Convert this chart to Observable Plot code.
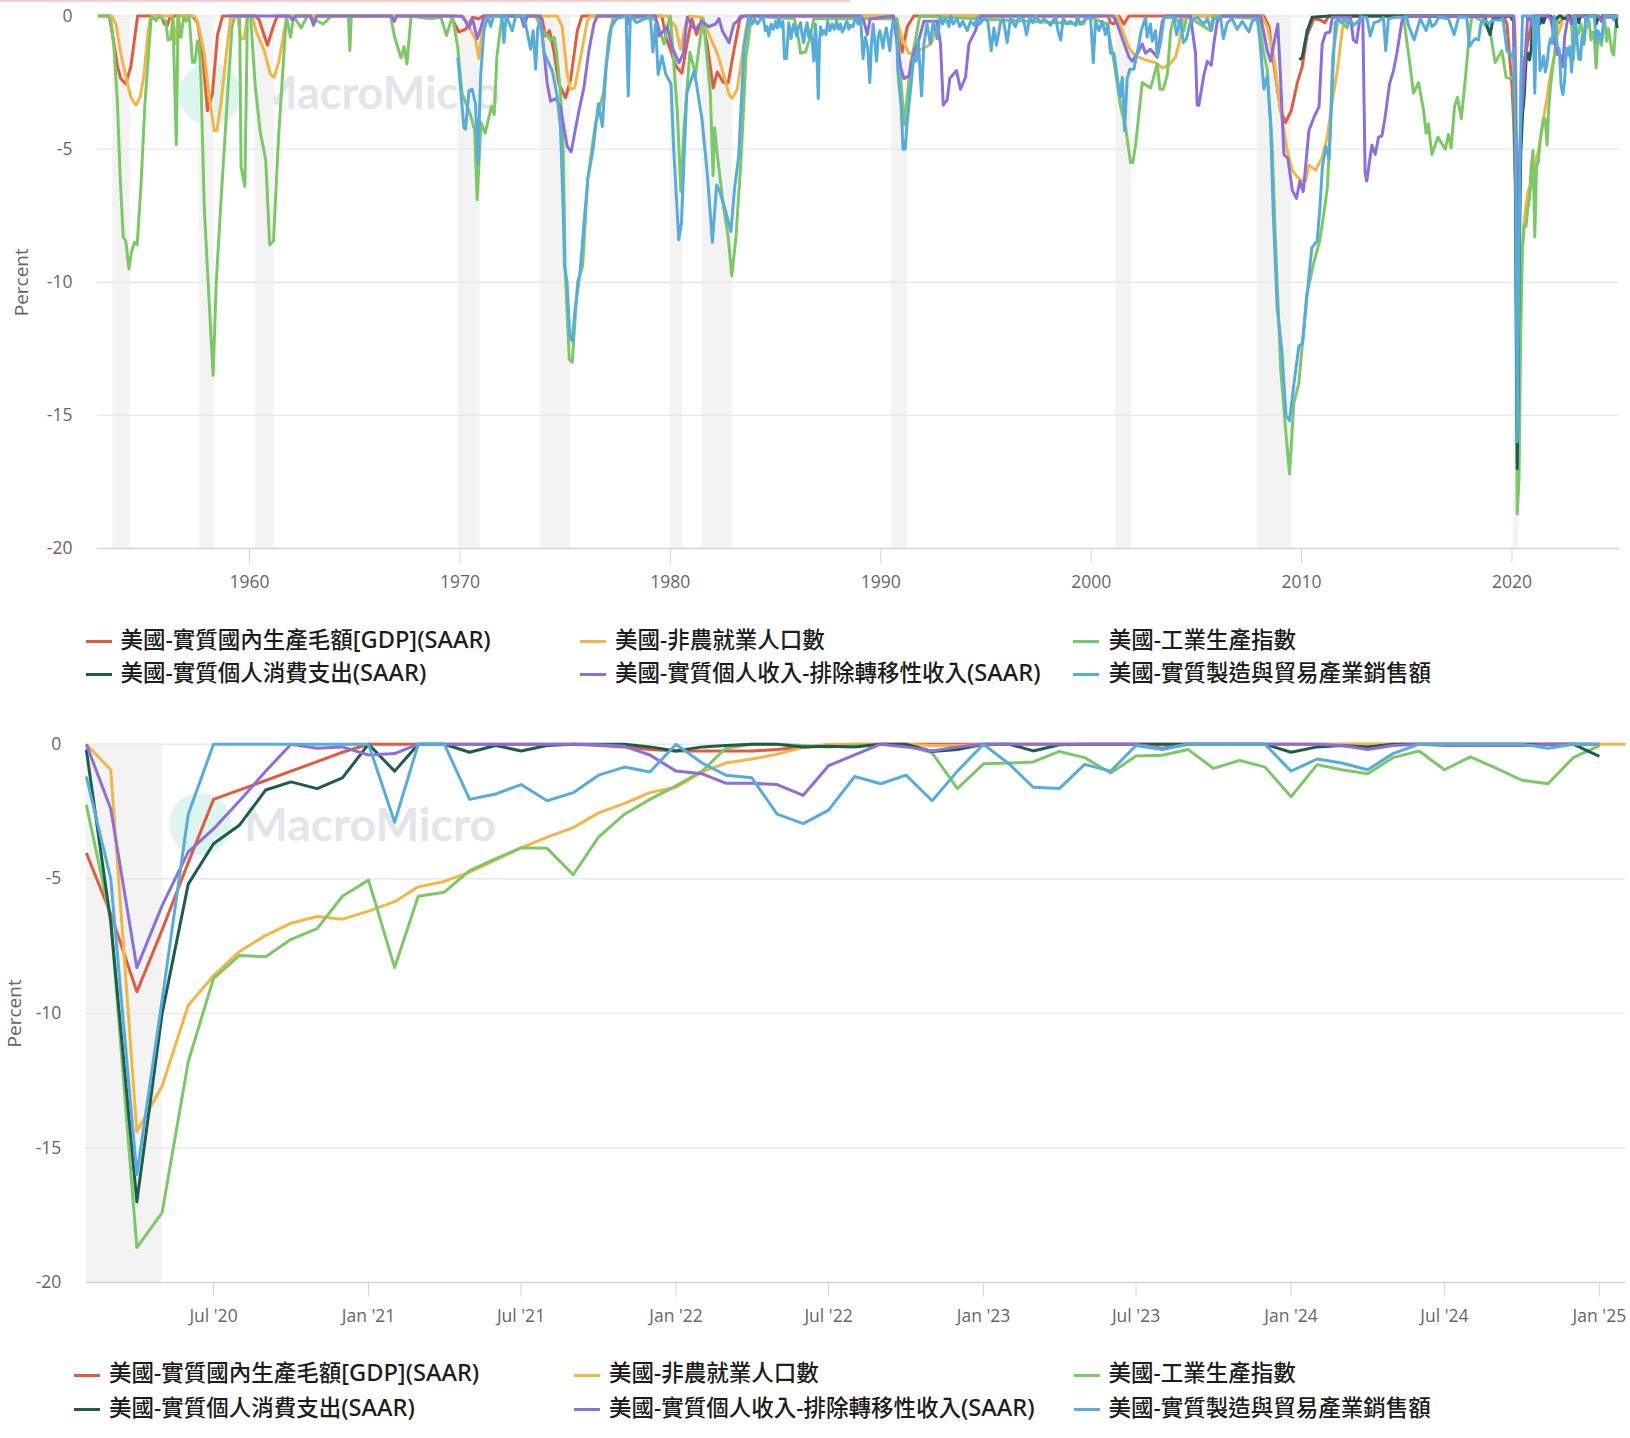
<!DOCTYPE html>
<html lang="zh-Hant">
<head>
<meta charset="utf-8">
<title>美國景氣指標回落幅度</title>
<script src="https://cdn.jsdelivr.net/npm/d3@7"></script>
<script src="https://cdn.jsdelivr.net/npm/@observablehq/plot@0.6"></script>
<style>
html,body{margin:0;padding:0;background:#fff;overflow:hidden}
#page{position:relative;width:1630px;height:1438px;overflow:hidden;background:#fff}
#page svg{position:absolute;left:0}
.strip{position:absolute;left:0;top:0;width:850px;height:2px;background:#f6cccc}
.mm-dot{position:absolute;width:62px;height:62px;border-radius:50%;background:#dcf5ef}
.mm-txt{position:absolute;font:700 45px/1 Lato,"Noto Sans",sans-serif;color:#e3e5e7;white-space:nowrap}
.lg{position:absolute;font:500 22.5px/26px "Noto Sans","Noto Sans CJK TC",sans-serif;color:#1c1c1c;white-space:nowrap}
.lg span{font-size:1.05em;line-height:0}
.sw{position:absolute;width:26px;height:3px}
</style>
</head>
<body>
<div id="page"><div class="strip"></div></div>
<script>
// ---- names, colours
const seriesNames = ["美國-實質國內生產毛額[GDP](SAAR)","美國-非農就業人口數","美國-工業生產指數","美國-實質個人消費支出(SAAR)","美國-實質個人收入-排除轉移性收入(SAAR)","美國-實質製造與貿易產業銷售額"];
const seriesColors = ["#e05c40","#f2b648","#7cc868","#1e5c4c","#8d6fdc","#58acd9"];

// ---- monthly readings, Feb 2020 .. Jan 2025 (12 per row)
const gdpMonthly = [
 -4.04,-6.3,-9.2,-6.9,-4.4,-2.05,-1.7,-1.35,-1,-0.65,-0.3,0,
 0,0,0,0,0,0,0,0,-0.05,-0.1,-0.2,-0.25,
 -0.25,-0.25,-0.25,-0.2,-0.1,-0.05,0,0,0,0,0,0,
 0,0,0,0,0,0,0,0,0,0,0,0,
 0,0,0,0,0,0,0,0,0,0,0,0];
const jobsMonthly = [
 0,-0.95,-14.4,-12.7,-9.7,-8.6,-7.7,-7.1,-6.65,-6.4,-6.5,-6.2,
 -5.85,-5.3,-5.1,-4.75,-4.3,-3.85,-3.45,-3.1,-2.55,-2.2,-1.8,-1.6,
 -1.03,-0.7,-0.55,-0.37,-0.12,0,0,0,0,-0.05,-0.05,-0.02,
 0,0,0,0,0,0,0,0,0,0,0,0,
 0,0,0,0,0,0,0,0,0,0,0,0,0];
const ipMonthly = [
 -2.25,-6.5,-18.7,-17.4,-11.8,-8.7,-7.85,-7.9,-7.25,-6.85,-5.65,-5.05,
 -8.3,-5.65,-5.5,-4.7,-4.25,-3.85,-3.87,-4.85,-3.45,-2.6,-2.05,-1.55,
 -1,-0.15,0,0,-0.05,-0.1,-0.05,0,-0.05,-0.32,-1.65,-0.73,
 -0.7,-0.66,-0.27,-0.5,-1.07,-0.44,-0.41,-0.2,-0.9,-0.6,-0.85,-1.95,
 -0.76,-0.95,-1.1,-0.5,-0.25,-0.95,-0.47,-0.9,-1.34,-1.47,-0.5,-0.05];
const pceMonthly = [
 -0.2,-6.6,-17,-10,-5.2,-3.7,-3,-1.7,-1.4,-1.65,-1.25,0,
 -1,0,0,-0.3,-0.05,-0.25,-0.05,0,0,0,-0.1,-0.25,
 -0.1,-0.05,0,0,-0.1,-0.08,-0.1,0,0,-0.27,-0.2,0,
 0,-0.25,-0.02,0,0,0,0,0,0,0,0,-0.3,
 -0.1,-0.05,-0.1,0,0,0,0,0,0,0,0,-0.45];
const incomeMonthly = [
 0,-2.4,-8.3,-6,-4,-3.15,-2.1,-1,0,-0.15,-0.1,-0.4,
 -0.35,0,0,0,0,0,0,0,-0.02,-0.08,-0.4,-1,
 -1.1,-1.45,-1.45,-1.5,-1.9,-0.8,-0.4,0,-0.1,-0.25,-0.1,0,
 0,0,0,0,0,0,-0.15,0,0,0,0,0,
 0,-0.05,-0.2,-0.05,0,-0.05,-0.05,-0.05,-0.05,0,0,0];
const salesMonthly = [
 -1.2,-5,-16,-9.5,-2.6,0,0,0,0,0,0,0,
 -2.9,0,0,-2.05,-1.85,-1.5,-2.1,-1.8,-1.15,-0.85,-1.03,0,
 -0.7,-1.15,-1.25,-2.6,-2.95,-2.45,-1.2,-1.47,-1.15,-2.1,-1,0,
 -0.75,-1.6,-1.65,-0.75,-1,-0.05,-0.2,0,0,0,0,-1,
 -0.55,-0.7,-0.95,-0.35,0,0,0,0,0,-0.15,0,0];

// ---- long-run readings before Feb 2020: [year, percent]
const gdpHist = [[1952.8,0],[1953.33,0],[1953.49,-0.7],[1953.73,-1.9],[1953.88,-2.35],[1954.12,-2.55],[1954.36,-1.9],[1954.68,0],[1955.79,0],[1955.95,-0.3],[1956.1,-0.35],[1956.23,0],[1957.29,0],[1957.53,-0.25],[1957.77,-1.4],[1958,-3.55],[1958.24,-2.9],[1958.48,-0.7],[1958.72,0],[1960.3,0],[1960.46,-0.15],[1960.85,-1.1],[1961.17,-0.3],[1961.33,0],[1969.56,0],[1969.95,-0.6],[1970.27,-0.5],[1970.6,-0.05],[1970.9,-0.1],[1971.1,0],[1973.5,0],[1973.9,-0.1],[1974.07,-0.75],[1974.26,-0.55],[1974.47,-1.35],[1974.7,-2.55],[1975.02,-3.07],[1975.26,-2.4],[1975.58,-0.55],[1975.8,0],[1979.6,0],[1979.79,-0.8],[1980.28,-1.9],[1980.55,-2.15],[1980.78,-1.1],[1981.02,-0.1],[1981.25,-0.7],[1981.5,-0.1],[1981.75,-1.05],[1982.04,-2.7],[1982.23,-2.1],[1982.52,-2.5],[1982.75,-2.5],[1983.02,-1.3],[1983.31,-0.1],[1983.5,0],[1990.6,0],[1990.78,-0.55],[1991.02,-1.35],[1991.26,-0.4],[1991.57,0],[2000.8,0],[2000.92,-0.25],[2001.08,-0.3],[2001.32,0],[2001.56,-0.3],[2001.79,0],[2008.2,0],[2008.45,-0.4],[2008.68,-1.8],[2009,-3.55],[2009.24,-4],[2009.51,-3.55],[2009.8,-2.5],[2010.03,-1.9],[2010.27,-0.7],[2010.59,-0.1],[2010.9,-0.15],[2011.1,-0.25],[2011.3,0],[2019.6,0],[2019.76,-0.3],[2020,-2.6]];
const jobsHist = [[1952.8,0],[1953.45,0],[1953.65,-0.3],[1953.88,-1.4],[1954.2,-2.55],[1954.36,-3.05],[1954.6,-3.35],[1954.8,-3.05],[1954.99,-2.2],[1955.15,-0.8],[1955.28,-0.1],[1955.4,0],[1956.34,0],[1956.5,-1.05],[1956.6,0],[1957.37,0],[1957.53,-0.2],[1957.85,-1.4],[1958.08,-3],[1958.32,-4.3],[1958.45,-4.3],[1958.64,-3.3],[1958.88,-1.55],[1959.11,0],[1959.43,0],[1959.59,-0.85],[1959.75,-0.85],[1959.9,0],[1960.14,0],[1960.3,-0.55],[1960.7,-1.3],[1961,-2.2],[1961.17,-2.3],[1961.4,-1.7],[1961.65,-0.55],[1961.8,0],[1969.8,0],[1970.2,-0.05],[1970.43,-0.4],[1970.75,-0.9],[1970.9,-1.6],[1971.06,-0.55],[1971.2,0],[1974.63,0],[1974.86,-0.4],[1975.1,-2.2],[1975.26,-2.75],[1975.45,-2.7],[1975.74,-1.55],[1976.05,-0.2],[1976.2,0],[1979.85,0],[1980.25,-0.4],[1980.49,-1.25],[1980.72,-0.3],[1980.88,0],[1981.5,-0.05],[1981.9,-0.8],[1982.23,-1.4],[1982.55,-2.25],[1982.79,-2.95],[1982.94,-3.1],[1983.18,-2.75],[1983.34,-1.9],[1983.58,-0.55],[1983.74,0],[1990.6,0],[1990.78,-0.2],[1991.02,-0.85],[1991.34,-1.4],[1991.57,-1.45],[1991.9,-1.25],[1992.2,-1.15],[1992.46,-0.95],[1992.7,-0.2],[1992.9,0],[2001.24,0],[2001.48,-0.55],[2001.8,-1.2],[2002.11,-1.5],[2002.58,-1.65],[2003.06,-1.75],[2003.38,-1.95],[2003.69,-1.85],[2004.01,-1.55],[2004.17,-1.05],[2004.4,0],[2008.1,0],[2008.37,-0.4],[2008.68,-1.55],[2009,-3.55],[2009.32,-5.05],[2009.56,-5.8],[2009.8,-6.05],[2010.03,-6.2],[2010.19,-6.2],[2010.35,-5.6],[2010.67,-5.8],[2010.98,-5.3],[2011.22,-4.55],[2011.46,-3.2],[2011.7,-2.05],[2011.93,-0.55],[2012.09,0],[2020,0]];
const ipHist = [[1952.8,0],[1953.3,0],[1953.42,-0.2],[1953.57,-1.3],[1953.72,-3.2],[1953.85,-6],[1954,-8.3],[1954.12,-8.45],[1954.27,-9.5],[1954.39,-8.85],[1954.54,-8.5],[1954.66,-8.6],[1954.84,-6.4],[1955.03,-3.3],[1955.33,0],[1955.55,-0.17],[1955.7,0],[1956.02,-0.2],[1956.13,-0.9],[1956.26,-0.86],[1956.36,-0.05],[1956.52,-4.84],[1956.61,0],[1956.74,-0.8],[1956.87,-0.05],[1956.98,-0.2],[1957.13,0],[1957.29,-1.74],[1957.4,-1.74],[1957.53,-0.93],[1957.6,-1.05],[1957.69,-2.3],[1957.85,-7.2],[1958.05,-10.25],[1958.27,-13.5],[1958.42,-10],[1958.67,-6.6],[1958.91,-3.6],[1959.16,-0.5],[1959.28,0],[1959.53,0],[1959.6,-5.67],[1959.78,-6.4],[1959.9,0],[1960.05,0],[1960.27,-2.6],[1960.5,-4.3],[1960.77,-5.4],[1960.96,-8.6],[1961.14,-8.45],[1961.38,-4.55],[1961.75,0],[1961.95,-0.8],[1962.1,0],[1962.45,-0.45],[1962.75,0],[1963.5,-0.3],[1963.9,0],[1964.7,0],[1964.77,-1.3],[1964.84,0],[1966.7,0],[1966.9,-0.8],[1967.2,-1.57],[1967.35,-1.15],[1967.48,-1.8],[1967.68,0],[1968.55,-0.1],[1969.1,-0.05],[1969.36,-0.73],[1969.65,0],[1969.9,-1.2],[1970.1,-2.9],[1970.5,-3.7],[1970.7,-4.3],[1970.82,-6.9],[1971,-4],[1971.2,-4.4],[1971.5,-3.4],[1971.63,-3.7],[1971.76,-1.5],[1972,0],[1973.6,0],[1973.9,-0.5],[1974.3,-0.9],[1974.48,-0.8],[1974.6,-1.4],[1974.78,-2.9],[1974.91,-5],[1975,-9.5],[1975.2,-12.9],[1975.34,-13],[1975.59,-10],[1975.83,-9.4],[1976.08,-6.1],[1976.45,-4],[1976.82,-2.9],[1977.07,-0.8],[1977.3,0],[1979.2,-0.1],[1979.38,-0.24],[1979.7,-1.05],[1979.85,-0.4],[1980,0],[1980.33,-3.55],[1980.5,-6.6],[1980.65,-4.2],[1980.93,-1.36],[1981.2,-2.2],[1981.44,-0.7],[1981.57,-0.1],[1981.9,-2.9],[1982.03,-6],[1982.1,-4.2],[1982.23,-5.2],[1982.5,-7],[1982.75,-8.3],[1982.92,-9.76],[1983.12,-8.3],[1983.37,-5.25],[1983.6,-1.5],[1983.86,0],[1985.9,-0.1],[1986.1,-0.9],[1986.19,-1.4],[1986.42,-1.35],[1986.63,-0.85],[1986.82,-0.1],[1990.78,-0.1],[1990.94,-2.3],[1991.13,-4.1],[1991.41,-1.8],[1991.65,-0.9],[1991.85,0],[1999.65,-0.3],[1999.8,0],[2000.76,-0.3],[2001.08,-1.7],[2001.4,-3.4],[2001.64,-4.2],[2001.87,-5.5],[2001.98,-5.5],[2002.11,-4.85],[2002.43,-2.5],[2002.82,-2.7],[2002.9,-2.5],[2003.14,-1.8],[2003.27,-2.75],[2003.43,-2.75],[2003.62,-2.2],[2003.78,-0.55],[2003.95,0],[2004.4,-0.55],[2004.55,0],[2005.67,-0.55],[2005.8,0],[2007.97,-0.1],[2008.2,-1.4],[2008.37,-2],[2008.6,-4.8],[2008.76,-8.45],[2009.01,-13.3],[2009.26,-15.7],[2009.43,-17.2],[2009.63,-14.55],[2009.87,-13.8],[2010.24,-10.5],[2010.57,-9.3],[2010.86,-8.45],[2011.1,-7.2],[2011.23,-6.4],[2011.36,-4.3],[2011.48,-1.5],[2011.73,-0.1],[2012.17,-0.45],[2012.3,0],[2014.84,0],[2015.08,-1.4],[2015.32,-2.9],[2015.56,-2.5],[2015.8,-3.55],[2015.92,-4.4],[2016.03,-4.05],[2016.19,-5.2],[2016.48,-4.55],[2016.83,-5],[2016.98,-4.45],[2017.11,-4.95],[2017.27,-3.4],[2017.41,-3.05],[2017.59,-3.85],[2017.78,-2.4],[2017.93,-1.05],[2018.09,0],[2018.5,-0.15],[2018.96,-0.55],[2019.2,-1.75],[2019.52,-1.3],[2019.72,-2.3],[2019.92,-2.35]];
const pceHist = [[2009.9,-1.65],[2010.03,-1.55],[2010.27,-0.55],[2010.5,-0.05],[2011.3,0],[2018.7,0],[2018.88,-0.55],[2018.96,-0.7],[2019.1,-0.1],[2019.9,0]];
const incomeHist = [[1959,0],[1961.9,0],[1962.04,-0.15],[1962.2,0],[1962.9,0],[1963.04,-0.35],[1963.2,0],[1966.75,0],[1966.88,-0.2],[1967,0],[1970.1,0],[1970.27,-0.2],[1970.43,-0.45],[1970.6,-0.1],[1970.82,-0.85],[1970.98,-0.5],[1971.14,0],[1972.9,0],[1973.04,-0.4],[1973.2,0],[1973.83,0],[1973.99,-1.3],[1974.15,-2.55],[1974.31,-3.2],[1974.55,-3.1],[1974.78,-3.4],[1974.94,-4.2],[1975.1,-4.9],[1975.29,-5.1],[1975.45,-4.4],[1975.66,-3.55],[1975.89,-2.7],[1976.13,-1.3],[1976.37,-0.3],[1976.53,0],[1977.95,0],[1978.03,-0.3],[1978.12,0],[1979.3,0],[1979.46,-0.75],[1979.85,-0.4],[1980.09,-1.2],[1980.41,-1.75],[1980.62,-1.4],[1980.8,-0.05],[1981.04,-0.4],[1981.2,-0.5],[1981.5,-0.2],[1981.83,-0.4],[1982.15,-0.3],[1982.31,-0.1],[1982.47,-0.55],[1982.79,-1],[1983.02,-0.3],[1983.18,-0.2],[1983.34,0],[1989.05,0],[1989.2,-0.2],[1989.36,-0.7],[1989.5,-0.1],[1990.6,0],[1990.78,-1.05],[1990.94,-1.9],[1991.1,-2.35],[1991.34,-2.25],[1991.57,-1.4],[1991.81,-0.9],[1992.05,-0.2],[1992.68,-0.2],[1992.84,-1.05],[1992.97,-3.35],[1993.16,-3.15],[1993.28,-2.35],[1993.6,-2.05],[1993.79,-2.75],[1994.03,-2.3],[1994.19,-1.05],[1994.5,-0.55],[1994.74,0],[2001.05,0],[2001.24,-0.3],[2001.48,-0.85],[2001.8,-1.55],[2001.96,-1.7],[2002.27,-1.3],[2002.43,-1.05],[2002.58,-1.4],[2002.82,-1.25],[2003.14,-1.55],[2003.38,-0.2],[2003.55,0],[2004.72,0],[2004.96,-1.4],[2005.04,-3.35],[2005.12,-3.35],[2005.36,-2.2],[2005.52,-1.7],[2005.71,-1.85],[2005.83,-1.05],[2005.99,-0.2],[2006.2,0],[2008.05,0],[2008.37,-1.3],[2008.53,-1.7],[2008.68,-1.05],[2008.87,-0.3],[2009,-2.3],[2009.16,-5.2],[2009.35,-5.35],[2009.56,-6.55],[2009.76,-6.85],[2009.92,-6.2],[2010.08,-6.6],[2010.35,-4.3],[2010.59,-3.8],[2010.83,-3.4],[2010.98,-1.05],[2011.14,-0.65],[2011.35,-0.6],[2011.46,-0.05],[2012.33,-0.05],[2012.46,-0.9],[2012.61,-1],[2012.79,0],[2012.91,-0.05],[2013.02,-5.9],[2013.1,-6.2],[2013.34,-4.85],[2013.5,-5.2],[2013.66,-4.55],[2013.82,-4.5],[2013.97,-3.8],[2014.18,-2.55],[2014.37,-2.05],[2014.53,-1.4],[2014.77,-0.2],[2014.92,0],[2020,0]];
const salesHist = [[1969.9,-1.55],[1970.03,-2.7],[1970.19,-4.2],[1970.27,-4.25],[1970.43,-2.8],[1970.58,-2.75],[1970.74,-3.3],[1970.86,-5.55],[1970.98,-2.3],[1971.14,-0.55],[1971.33,0],[1971.46,-0.4],[1971.6,0],[1972,0],[1972.09,-1],[1972.2,0],[1972.49,-0.55],[1972.65,0],[1973,0],[1973.12,-0.3],[1973.36,-1.25],[1973.48,-0.55],[1973.6,-2],[1973.7,-0.45],[1973.83,-0.2],[1973.99,-1.35],[1974.15,-1.65],[1974.39,-2.05],[1974.63,-3.05],[1974.78,-4.2],[1974.91,-7.3],[1974.97,-9.4],[1975.09,-10],[1975.22,-12],[1975.34,-12.2],[1975.46,-11.1],[1975.71,-9.6],[1975.96,-7.2],[1976.08,-6.1],[1976.33,-5],[1976.58,-3.3],[1976.77,-4.15],[1976.95,-1.9],[1977.2,-0.4],[1977.45,-0.1],[1977.9,0],[1978,-3],[1978.1,0],[1978.4,-0.25],[1979.05,0],[1979.17,-1.35],[1979.3,-0.3],[1979.42,-2.2],[1979.6,-1.5],[1979.79,-2.2],[1980.03,-2.55],[1980.16,-5],[1980.4,-8.4],[1980.53,-7.75],[1980.78,-2.9],[1981.14,-2.05],[1981.5,-3.85],[1981.76,-5.95],[1982,-8.5],[1982.2,-6.35],[1982.38,-6.65],[1982.63,-7.35],[1982.88,-8.1],[1983.05,-6.5],[1983.25,-5.25],[1983.5,-1.2],[1983.74,0],
 [1983.9,-0.3],[1984,-0.1],[1984.15,-0.3],[1984.3,-0.1],[1984.41,-0.05],[1984.52,-0.55],[1984.6,-0.4],[1984.68,-0.75],[1984.79,-0.3],[1984.9,-0.5],[1985,-0.2],[1985.08,-0.45],[1985.16,-0.05],[1985.25,-0.4],[1985.35,-0.2],[1985.43,-1.6],[1985.52,-1.6],[1985.63,-0.25],[1985.74,-0.85],[1985.8,-0.5],[1985.87,-0.3],[1986,-0.75],[1986.1,-0.4],[1986.19,-0.25],[1986.26,-0.7],[1986.34,-1],[1986.42,-0.5],[1986.5,-0.25],[1986.58,-0.8],[1986.66,-0.55],[1986.74,-0.9],[1986.82,-1.7],[1986.9,-0.3],[1986.97,-1.5],[1987.03,-3.1],[1987.09,-1],[1987.14,-0.4],[1987.22,-0.7],[1987.3,-0.55],[1987.4,-0.7],[1987.48,-0.2],[1987.58,-0.55],[1987.69,-0.3],[1987.8,-0.5],[1987.9,-0.2],[1988,-0.5],[1988.09,-0.3],[1988.17,-0.6],[1988.25,-0.5],[1988.33,-0.3],[1988.4,-0.2],[1988.48,-0.5],[1988.56,-0.35],[1988.68,-0.4],[1988.8,-0.05],[1988.92,-0.3],[1989.04,-0.05],[1989.16,-1.6],[1989.27,-0.8],[1989.38,-1.2],[1989.48,-2.5],[1989.56,-1],[1989.64,-0.3],[1989.72,-1],[1989.8,-1.7],[1989.88,-0.8],[1989.96,-0.55],[1990.04,-0.9],[1990.11,-1.2],[1990.19,-0.7],[1990.27,-0.45],[1990.35,-0.9],[1990.43,-1.3],[1990.51,-0.6],[1990.59,-0.2],[1990.75,-0.3],[1990.81,-2.05],[1990.97,-3.4],[1991.06,-5],[1991.16,-5],[1991.25,-4.05],[1991.41,-2.8],[1991.57,-1.55],[1991.68,-1.7],[1991.78,-0.9],[1991.94,-3],[1992.05,-1.05],[1992.2,-0.3],[1992.36,-1.05],[1992.49,-0.2],[1992.68,-0.85],[1992.84,-0.05],[1992.95,-0.3],[1993.05,-0.1],[1993.16,-0.2],[1993.24,-0.4],[1993.32,0],[1993.45,-0.3],[1993.63,-0.1],[1993.75,-0.4],[1993.9,-0.2],[1994.11,-0.55],[1994.27,-0.2],[1994.46,-0.35],[1994.58,-0.05],[1994.72,-0.3],[1994.9,-0.1],[1995.09,-0.2],[1995.25,-1.3],[1995.38,-0.45],[1995.5,-1.1],[1995.69,-0.25],[1995.82,-0.1],[1996.01,-1],[1996.17,-0.05],[1996.28,-0.25],[1996.4,-0.4],[1996.56,-0.05],[1996.77,-0.1],[1996.93,-0.7],[1997.09,-0.05],[1997.22,-0.25],[1997.36,0],[1997.59,-0.25],[1997.75,-0.1],[1997.91,-0.2],[1998.07,-0.35],
 [1998.31,0],[1998.42,-0.55],[1998.55,-0.9],[1998.67,-0.1],[1998.85,-0.3],[1999.02,-0.2],[1999.26,-0.35],[1999.34,-0.05],[1999.5,-0.3],[1999.75,-0.1],[1999.97,-0.05],[2000.1,-1.75],[2000.21,-0.2],[2000.37,-0.55],[2000.53,-0.2],[2000.68,-0.7],[2000.8,-0.3],[2000.92,-1.4],[2001.08,-1.4],[2001.24,-2.3],[2001.37,-3.05],[2001.48,-2.3],[2001.59,-4.3],[2001.71,-2.35],[2001.84,-2],[2002.03,-2],[2002.27,-1.05],[2002.38,-0.55],[2002.59,-0.05],[2002.66,-0.8],[2002.82,-0.3],[2002.9,-0.95],[2003.06,-0.55],[2003.14,-1.55],[2003.3,-1],[2003.46,-0.05],[2003.93,-0.05],[2004.06,-0.7],[2004.25,-0.1],[2004.38,-1],[2004.53,-0.85],[2004.72,-0.2],[2005.04,-0.05],[2005.36,-0.3],[2005.52,-0.1],[2005.71,-0.55],[2005.83,-0.1],[2006.15,-0.05],[2006.28,-0.85],[2006.47,-0.25],[2006.7,-0.1],[2006.94,-0.5],[2007.18,-0.2],[2007.5,-0.6],[2007.65,-0.2],[2007.89,-0.1],[2008.02,-0.9],[2008.21,-2.75],[2008.37,-2.25],[2008.53,-4.15],[2008.65,-7.3],[2008.84,-10.95],[2009.06,-12.55],[2009.26,-15],[2009.43,-15.2],[2009.63,-13.85],[2009.87,-12.4],[2010.05,-12.3],[2010.29,-10.25],[2010.49,-8.7],[2010.74,-8.45],[2010.86,-7.35],[2010.99,-5.65],[2011.16,-4.9],[2011.31,-5.4],[2011.48,-2.2],[2011.6,-0.25],[2011.75,-0.1],[2011.9,-0.25],[2012.05,-0.1],[2012.2,-0.3],
 [2012.31,-0.15],[2012.47,-0.35],[2012.75,-0.15],[2012.87,-0.05],[2013.1,-0.05],[2013.26,-0.75],[2013.45,-0.25],[2013.66,-0.2],[2013.89,-0.05],[2014,-1.3],[2014.13,-0.1],[2014.45,-0.05],[2015,-0.05],[2015.08,-0.35],[2015.35,-0.9],[2015.64,-0.1],[2015.92,-0.55],[2016.08,-0.1],[2016.19,-0.4],[2016.35,-0.3],[2016.51,-0.05],[2016.98,-0.1],[2017.25,-0.7],[2017.46,-0.05],[2017.85,-0.05],[2017.98,-1.15],[2018.09,-1],[2018.25,-0.85],[2018.41,-0.9],[2018.52,-0.3],[2018.65,-0.1],[2018.88,-0.3],[2019.12,-0.15],[2019.41,-0.15],[2019.57,-0.1],[2019.76,-1.3],[2020,-1.55]];

// ---- recessions and axis labels
const recessionYears = [[1953.5,1954.33],[1957.62,1958.32],[1960.27,1961.17],[1969.92,1970.97],[1973.83,1975.25],[1980,1980.6],[1981.5,1982.97],[1990.5,1991.28],[2001.17,2001.93],[2007.92,2009.52],[2020.08,2020.33]];
const longTicks = [1960,1970,1980,1990,2000,2010,2020];
const yTicks = [0,-5,-10,-15,-20];
const gridValues = [0,-5,-10,-15];
const zoomStart = "2020-02-01", zoomEnd = "2025-02-01", zoomRecessionEnd = "2020-05-01";
const zoomTicks = ["2020-07-01","2021-01-01","2021-07-01","2022-01-01","2022-07-01","2023-01-01","2023-07-01","2024-01-01","2024-07-01","2025-01-01"];

const monthly = [gdpMonthly,jobsMonthly,ipMonthly,pceMonthly,incomeMonthly,salesMonthly];
const hist = [gdpHist,jobsHist,ipHist,pceHist,incomeHist,salesHist];
const zoomMonths = d3.utcMonth.range(new Date(zoomStart), new Date("2025-03-01"));

const longRows = seriesNames.flatMap((s,k)=>[
  ...hist[k].map(([x,y])=>({s,x,y})),
  ...monthly[k].map((y,i)=>({s,x:2020+(1+i)/12,y}))
]);
const zoomRows = seriesNames.flatMap((s,k)=>monthly[k].map((y,i)=>({s,x:zoomMonths[i],y})));

const FONT = '"Open Sans","Noto Sans",sans-serif';
const GRID = "#e8e8e8", AXIS = "#d4d4d4", BAND = "#f3f3f3", LABEL = "#666";

function lines(rows){
  return seriesNames.map((s,k)=>Plot.line(rows.filter(d=>d.s===s),{x:"x",y:"y",stroke:seriesColors[k],strokeWidth:3,strokeLinejoin:"round",strokeLinecap:"butt"}));
}
function frame(opts){
  return Plot.plot({
    width:1630,height:opts.height,marginLeft:opts.left,marginRight:opts.right,marginTop:opts.top,marginBottom:opts.bottom,
    style:{background:"transparent",fontFamily:FONT,fontSize:"17px",color:LABEL},
    x:opts.x,
    y:{domain:[-20,0]},
    marks:[
      opts.bands,
      Plot.ruleY(gridValues,{stroke:GRID,strokeWidth:1.4}),
      Plot.ruleY([-20],{stroke:AXIS,strokeWidth:1.4}),
      ...opts.lines,
      Plot.axisX({ticks:opts.ticks,tickFormat:opts.fmt,tickSize:15,tickPadding:12,stroke:AXIS,fill:LABEL,fontSize:17.5,label:null}),
      Plot.axisY({ticks:yTicks,tickFormat:d=>String(d),tickSize:0,tickPadding:25,fill:LABEL,fontSize:17.5,label:null}),
      Plot.axisY({ticks:[],tickSize:0,fill:LABEL,fontSize:19,label:"Percent",labelAnchor:"center",labelArrow:"none",labelOffset:opts.labelOffset})
    ]
  });
}

const page = document.getElementById("page");
function addWatermark(cx,cy,tx,size){
  const d=document.createElement("div");d.className="mm-dot";d.style.left=(cx-31)+"px";d.style.top=(cy-31)+"px";page.appendChild(d);
  const t=document.createElement("div");t.className="mm-txt";t.textContent="MacroMicro";t.style.left=tx+"px";t.style.top=(cy-24)+"px";t.style.fontSize=size+"px";page.appendChild(t);
}
function addLegend(lefts,textLefts,rowYs){
  seriesNames.forEach((name,k)=>{
    const col=k%3,row=k<3?0:1;
    const sw=document.createElement("div");sw.className="sw";sw.style.background=seriesColors[k];
    sw.style.left=lefts[col]+"px";sw.style.top=(rowYs[row]-1.5)+"px";page.appendChild(sw);
    const t=document.createElement("div");t.className="lg";
    t.innerHTML=name.replace(/[\[\]()A-Za-z]+/g,m=>"<span>"+m+"</span>");
    t.style.left=textLefts[col]+"px";t.style.top=(rowYs[row]-15)+"px";page.appendChild(t);
  });
}

addWatermark(210,94,255,45);
addWatermark(200,824,244,46.3);

const top1 = frame({
  height:600,left:97,right:11,top:15.5,bottom:52,labelOffset:83,
  x:{type:"linear",domain:[1952.776,2025.11]},
  bands:Plot.rectX(recessionYears,{x1:d=>d[0],x2:d=>d[1],y1:-20,y2:0,fill:BAND}),
  lines:lines(longRows),ticks:longTicks,fmt:d=>String(d)
});
top1.style.top="0px";page.appendChild(top1);

const fmtZoom = d3.utcFormat("%b '%y");
const bottom1 = frame({
  height:640,left:85.8,right:5,top:43.7,bottom:58,labelOffset:79,
  x:{type:"utc",domain:[new Date(zoomStart),new Date(zoomEnd)]},
  bands:Plot.rectX([[new Date(zoomStart),new Date(zoomRecessionEnd)]],{x1:d=>d[0],x2:d=>d[1],y1:-20,y2:0,fill:BAND}),
  lines:lines(zoomRows),ticks:zoomTicks.map(d=>new Date(d)),fmt:d=>fmtZoom(d)
});
bottom1.style.top="700px";page.appendChild(bottom1);

addLegend([86,579.5,1073],[120.5,615,1108.7],[641.5,674.7]);
addLegend([74,574,1074],[109,609,1108.5],[1375,1409.6]);
</script>
</body>
</html>
